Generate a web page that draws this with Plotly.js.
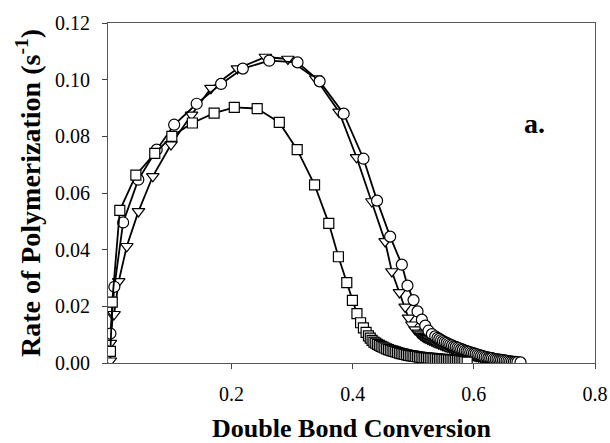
<!DOCTYPE html>
<html>
<head>
<meta charset="utf-8">
<script src="https://cdn.plot.ly/plotly-3.0.1.min.js"></script>
<style>html,body{margin:0;padding:0;background:#fff;}#chart{width:610px;height:443px;}</style>
</head>
<body>
<div id="chart"></div>
<script>
// Series: triangles (down)
const triX = [0.000,0.000,0.004,0.006,0.0137,0.027,0.0463,0.070,0.100,0.134,0.166,0.2097,0.2558,0.293,0.3391,0.3775,0.4063,0.4316,0.4535,0.4646,0.4772,0.4866,0.4921,0.4977,0.5031,0.5086,
 0.512,0.515,0.518,0.521,0.524,0.527,0.530,0.533,0.536,0.539,0.542,0.545,0.548,0.551,0.554,0.557,0.560,0.563,0.566,0.569,0.572,0.575,0.578,0.581,0.584,0.587,0.590,0.593,0.596,0.599,0.602,0.605,0.608,0.611,0.614,0.617,0.620,0.623,0.626,0.629,0.632,0.635,0.638,0.641,0.644,0.647,0.650,0.653,0.656,0.661];
const triY = [0.0008,0.007,0.0170,0.0172,0.0288,0.0412,0.0535,0.0659,0.0771,0.0876,0.0970,0.1039,0.1080,0.1073,0.1004,0.0886,0.0726,0.0570,0.0429,0.0323,0.0249,0.0198,0.0159,0.0135,0.0118,0.0106,
 0.0100,0.0095,0.0091,0.0088,0.0085,0.0082,0.0079,0.0076,0.0073,0.0071,0.0068,0.0066,0.0063,0.0061,0.0058,0.0056,0.0054,0.0052,0.0049,0.0047,0.0045,0.0043,0.0041,0.0039,0.0037,0.0034,0.0032,0.0030,0.0029,0.0027,0.0025,0.0024,0.0022,0.0021,0.0019,0.0018,0.0016,0.0015,0.0014,0.0013,0.0011,0.0010,0.0009,0.0007,0.0006,0.0005,0.0004,0.0003,0.0002,0.0001];

// Series: circles
const cirX = [0.000,0.0065,0.021,0.046,0.0764,0.1052,0.1424,0.1827,0.2186,0.2622,0.3089,0.3454,0.3851,0.4178,0.4402,0.4618,0.4811,0.4904,0.5004,0.5070,0.5142,0.5197,0.5251,0.5307,0.5362,
 0.540,0.543,0.546,0.549,0.552,0.555,0.558,0.561,0.564,0.567,0.570,0.573,0.576,0.579,0.582,0.585,0.588,0.591,0.594,0.597,0.600,0.603,0.606,0.609,0.612,0.615,0.618,0.621,0.624,0.627,0.630,0.633,0.636,0.639,0.642,0.645,0.648,0.651,0.654,0.657,0.660,0.663,0.666,0.669,0.672,0.677];
const cirY = [0.0104,0.0269,0.0496,0.0647,0.0753,0.0841,0.0915,0.0985,0.1039,0.1067,0.1061,0.0994,0.0880,0.0721,0.0573,0.0446,0.0347,0.0273,0.0222,0.0182,0.0153,0.0132,0.0114,0.0102,0.0094,
 0.0089,0.0085,0.0081,0.0077,0.0074,0.0071,0.0068,0.0065,0.0062,0.0059,0.0057,0.0054,0.0052,0.0049,0.0047,0.0044,0.0042,0.0040,0.0038,0.0036,0.0034,0.0032,0.0030,0.0028,0.0026,0.0024,0.0022,0.0021,0.0019,0.0018,0.0017,0.0015,0.0014,0.0013,0.0012,0.0011,0.0010,0.0009,0.0008,0.0007,0.0006,0.0005,0.0004,0.0004,0.0003,0.0002];

// Series: squares
const sqX = [0.000,0.003,0.0155,0.042,0.0732,0.1014,0.1353,0.1712,0.2045,0.2423,0.2788,0.3083,0.337,0.3605,0.3764,0.3902,0.3995,0.4070,0.4130,0.4177,0.4221,0.426,
 0.429,0.432,0.435,0.438,0.441,0.444,0.447,0.450,0.453,0.456,0.459,0.462,0.465,0.468,0.471,0.474,0.477,0.480,0.483,0.486,0.489,0.492,0.495,0.498,0.501,0.504,0.507,0.510,0.513,0.516,0.519,0.522,0.525,0.528,0.531,0.534,0.537,0.540,0.543,0.546,0.549,0.552,0.555,0.558,0.561,0.564,0.567,0.570,0.573,0.576,0.579,0.582,0.585,0.589];
const sqY = [0.0041,0.0215,0.0539,0.0663,0.0740,0.0800,0.0847,0.0882,0.0902,0.0898,0.0849,0.0753,0.0629,0.0493,0.0375,0.0284,0.0221,0.0174,0.0142,0.0124,0.0108,0.0096,
 0.0088,0.0080,0.0074,0.0070,0.0066,0.0062,0.0059,0.0056,0.0053,0.0050,0.0047,0.0045,0.0043,0.0041,0.0039,0.0037,0.0035,0.0033,0.0032,0.0030,0.0029,0.0027,0.0026,0.0025,0.0024,0.0023,0.0022,0.0021,0.0020,0.0019,0.0018,0.0018,0.0017,0.0016,0.0016,0.0015,0.0015,0.0014,0.0014,0.0013,0.0013,0.0012,0.0012,0.0011,0.0011,0.0010,0.0010,0.0009,0.0009,0.0008,0.0007,0.0006,0.0005,0.0003];

const xTickVals = [0.2,0.4,0.6,0.8];
const xTickText = ['0.2','0.4','0.6','0.8'];
const yTickVals = [0,0.02,0.04,0.06,0.08,0.10,0.12];
const yTickText = ['0.00','0.02','0.04','0.06','0.08','0.10','0.12'];

function series(x, y, sym, size) {
  return {
    x: x, y: y, type: 'scatter', mode: 'lines+markers', showlegend: false,
    line: {color: '#000', width: 1.8},
    marker: {symbol: sym, size: size, color: '#fff', line: {color: '#000', width: 1.2}}
  };
}

const data = [
  series(triX, triY, 'triangle-down', 11),
  series(cirX, cirY, 'circle', 11),
  series(sqX, sqY, 'square', 10)
];

const serif = 'Liberation Serif, Times New Roman, serif';
const layout = {
  width: 610, height: 443,
  margin: {l: 108, r: 15, t: 23, b: 80},
  paper_bgcolor: '#fff', plot_bgcolor: '#fff',
  font: {family: serif, color: '#000'},
  xaxis: {
    range: [-0.004, 0.8], tickvals: xTickVals, ticktext: xTickText,
    ticks: 'outside', ticklen: 5, tickwidth: 1, tickcolor: '#444',
    showline: true, linecolor: '#555', linewidth: 1, mirror: true,
    showgrid: false, zeroline: false,
    tickfont: {family: serif, size: 20, color: '#000'},
    ticklabelstandoff: 8,
    title: {text: '<b>Double Bond Conversion</b>', font: {family: serif, size: 26, color: '#000'}, standoff: 18}
  },
  yaxis: {
    range: [0, 0.12], tickvals: yTickVals, ticktext: yTickText,
    ticks: 'outside', ticklen: 5, tickwidth: 1, tickcolor: '#444',
    showline: true, linecolor: '#555', linewidth: 1, mirror: true,
    showgrid: false, zeroline: false,
    tickfont: {family: serif, size: 20, color: '#000'},
    ticklabelstandoff: 8,
    title: {text: '<b>Rate of Polymerization (s<sup>-1</sup>)</b>', font: {family: serif, size: 28, color: '#000'}, standoff: 6}
  },
  annotations: [{
    x: 0.70, y: 0.0845, xref: 'x', yref: 'y', showarrow: false,
    text: '<b>a.</b>', font: {family: serif, size: 28, color: '#000'}
  }]
};

Plotly.newPlot('chart', data, layout, {displayModeBar: false, staticPlot: true});
</script>
</body>
</html>
